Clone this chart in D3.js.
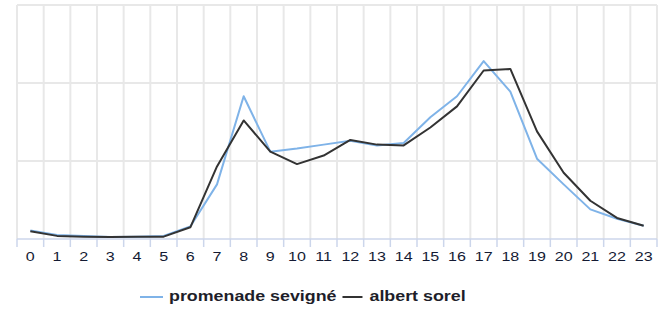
<!DOCTYPE html>
<html><head><meta charset="utf-8">
<script src="https://cdn.jsdelivr.net/npm/d3@7"></script>
<style>body{margin:0;background:#fff;} svg{display:block;}</style>
</head><body>
<svg id="c" width="664" height="318"></svg>
<script>
const hours = ["0","1","2","3","4","5","6","7","8","9","10","11","12","13","14","15","16","17","18","19","20","21","22","23"];
const sevigne = [11,5,4,2.5,3,4,16,70,183,112,116,121,126,120,123,156,183,228,189,103,70,38,26,17];
const sorel   = [10,4,3,2.5,3,3,15,93,152,112,96,107,127,121,120,143,170,216,218,138,85,49,27,17];
const yTicks = [0,100,200,300];
const seriesNames = ["promenade sevigné","albert sorel"];
const seriesColors = ["#7fb3e8","#333333"];

const svg = d3.select("#c");
const L=17,R=657,T=5,B=239;
const SX = 1.19; // horizontal text stretch seen in the reference
const x = d3.scaleBand().domain(hours).range([L,R]);
const y = d3.scaleLinear().domain([0,300]).range([B,T]);

// horizontal gridlines
svg.append("g").selectAll("line").data(yTicks.slice(1)).join("line")
  .attr("x1",L).attr("x2",R).attr("y1",d=>y(d)).attr("y2",d=>y(d))
  .attr("stroke","#e8e8e8").attr("stroke-width",2);
// vertical gridlines at band boundaries
const bounds = hours.map(h=>x(h)).concat([R]);
svg.append("g").selectAll("line").data(bounds).join("line")
  .attr("x1",d=>d).attr("x2",d=>d).attr("y1",T).attr("y2",B)
  .attr("stroke","#e8e8e8").attr("stroke-width",2);

// x axis
const ax = svg.append("g").attr("transform",`translate(0,${B})`)
  .call(d3.axisBottom(x).tickSize(0).tickPadding(0));
ax.select(".domain").remove();
ax.selectAll("text").attr("y",0).attr("dy","0")
  .attr("transform",`translate(0,18) scale(${SX},1)`)
  .attr("font-family","Arial, 'Liberation Sans', sans-serif")
  .attr("font-size","13.5px").attr("fill","#141a33").attr("dominant-baseline","middle");
svg.append("line").attr("x1",L).attr("x2",R).attr("y1",B).attr("y2",B)
  .attr("stroke","#ccd6eb").attr("stroke-width",1.5);
svg.append("g").selectAll("line").data(bounds).join("line")
  .attr("x1",d=>d).attr("x2",d=>d).attr("y1",B).attr("y2",B+8)
  .attr("stroke","#ccd6eb").attr("stroke-width",1.5);

// lines
const line = d3.line().x((d,i)=>x(hours[i])+x.bandwidth()/2).y(d=>y(d));
[sevigne, sorel].forEach((s,i)=>{
  svg.append("path").datum(s).attr("d",line).attr("fill","none")
    .attr("stroke",seriesColors[i]).attr("stroke-width",2).attr("stroke-linejoin","round");
});

// legend
const lg = svg.append("g").attr("font-family","Arial, 'Liberation Sans', sans-serif")
  .attr("font-size","15px").attr("font-weight","bold").attr("fill","#1e1e2a");
const ly = 297;
lg.append("line").attr("x1",140).attr("x2",163).attr("y1",ly).attr("y2",ly).attr("stroke",seriesColors[0]).attr("stroke-width",2);
const t1 = lg.append("text").attr("x",0).attr("y",0).attr("dominant-baseline","middle")
  .attr("transform",`translate(169,${ly}) scale(${SX},1)`).text(seriesNames[0]);
const w1 = t1.node().getComputedTextLength()*SX;
const x2 = 169+w1+6;
lg.append("line").attr("x1",x2).attr("x2",x2+20).attr("y1",ly).attr("y2",ly).attr("stroke",seriesColors[1]).attr("stroke-width",2);
lg.append("text").attr("x",0).attr("y",0).attr("dominant-baseline","middle")
  .attr("transform",`translate(${x2+27},${ly}) scale(${SX},1)`).text(seriesNames[1]);
</script>
</body></html>
